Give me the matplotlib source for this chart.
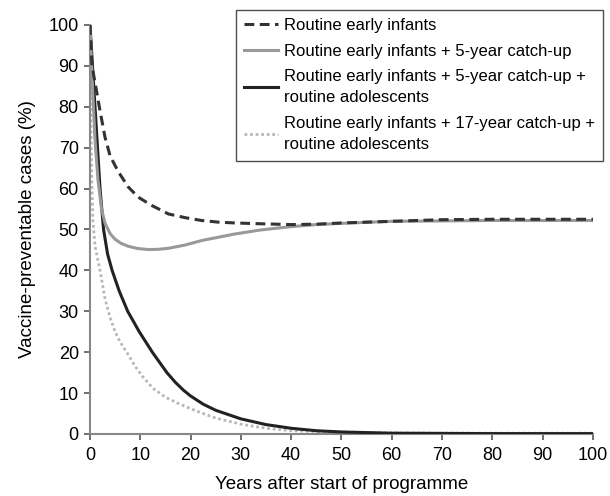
import matplotlib
matplotlib.use("Agg")
import matplotlib.pyplot as plt

plt.rcParams['font.family'] = ['Liberation Sans', 'DejaVu Sans']

# Data (years after start, % of vaccine-preventable cases)
years_a = [0, 0.4, 1, 2, 3, 4, 5.6, 7.6, 9.6, 12.25, 15.6, 18.9, 22.2, 25.5,
           28.8, 34, 40, 45, 50, 60, 70, 80, 90, 100]
routine_infants = [100, 90, 86, 79, 72.5, 68, 64.2, 60.4, 57.9, 55.9, 53.8, 52.9, 52.2,
                   51.8, 51.6, 51.4, 51.2, 51.3, 51.6, 52.0, 52.4, 52.5, 52.5, 52.5]

years_b = [0, 0.5, 1, 1.6, 2.3, 3, 4, 5, 6.2, 7.6, 9.5, 11.6, 13.5, 15.6, 18.9, 22.2, 25.5,
           28.8, 34, 40, 45, 50, 60, 70, 80, 90, 100]
catchup5 = [100, 85, 72, 62, 55, 51.5, 49, 47.6, 46.6, 45.9, 45.35, 45.1, 45.15, 45.4, 46.2,
            47.3, 48.1, 48.9, 49.9, 50.7, 51.2, 51.5, 52.0, 52.1, 52.2, 52.2, 52.2]

years_c = [0, 0.5, 1, 1.5, 2, 2.7, 3.5, 4.4, 5.8, 7.5, 9.8, 12.4, 15.3, 17, 18.6, 20, 22.5,
           25, 30, 35, 40, 45, 50, 60, 70, 80, 90, 100]
catchup5_adol = [100, 90, 80, 70, 60, 50, 44, 40, 35, 30, 25, 20, 15, 12.6, 10.7, 9.3, 7.3,
                 5.8, 3.7, 2.3, 1.4, 0.8, 0.5, 0.2, 0.15, 0.1, 0.1, 0.1]

years_d = [0, 0.15, 0.3, 0.6, 1, 2, 3, 4, 5, 6, 7.3, 9, 10.5, 12.5, 15, 17.5, 20, 22.5,
           25, 30, 35, 40, 50, 60, 70, 80, 90, 100]
catchup17_adol = [100, 80, 65, 52, 46, 40, 33, 28.5, 25, 22.5, 20, 16.5, 14, 11.2, 9.0, 7.5,
                  6.2, 5.0, 3.9, 2.4, 1.4, 0.8, 0.4, 0.25, 0.2, 0.2, 0.2, 0.2]

labels = [
    "Routine early infants",
    "Routine early infants + 5-year catch-up",
    "Routine early infants + 5-year catch-up +\nroutine adolescents",
    "Routine early infants + 17-year catch-up +\nroutine adolescents",
]
xticks = list(range(0, 101, 10))
yticks = list(range(0, 101, 10))

fig = plt.figure(figsize=(6.1, 4.96), dpi=100)
ax = fig.add_axes([0.1475, 0.125, 0.8245, 0.8246])

l4, = ax.plot(years_d, catchup17_adol, color='#b8b8b8', lw=2, linestyle=(0, (1, 1)), zorder=2)
l3, = ax.plot(years_c, catchup5_adol, color='#222222', lw=2.2, zorder=3)
l2, = ax.plot(years_b, catchup5, color='#999999', lw=2.2, zorder=3)
l1, = ax.plot(years_a, routine_infants, color='#333333', lw=2.2, linestyle=(0, (3.2, 1.8)), zorder=4)

ax.set_xlim(0, 100)
ax.set_ylim(0, 100)
ax.set_xticks(xticks)
ax.set_yticks(yticks)
ax.tick_params(axis='both', labelsize=13, length=4, width=1.2, color='#555555')
ax.tick_params(axis='x', pad=5)
ax.tick_params(axis='y', pad=4)
for s in ['top', 'right']:
    ax.spines[s].set_visible(False)
for s in ['left', 'bottom']:
    ax.spines[s].set_color('#888888')
    ax.spines[s].set_linewidth(1.5)

ax.set_xlabel("Years after start of programme", fontsize=13.5, labelpad=9)
ax.set_ylabel("Vaccine-preventable cases (%)", fontsize=13.5, labelpad=9)

leg = ax.legend([l1, l2, l3, l4], labels,
                loc='upper right', bbox_to_anchor=(1.02, 1.037), fontsize=12,
                frameon=True, fancybox=False, edgecolor='#222222',
                handlelength=2.0, handletextpad=0.35, labelspacing=0.62,
                borderpad=0.5, borderaxespad=0)
for t in leg.get_texts():
    t.set_linespacing(1.55)
leg.get_frame().set_linewidth(1.0)

fig.savefig("out.png", dpi=100)
